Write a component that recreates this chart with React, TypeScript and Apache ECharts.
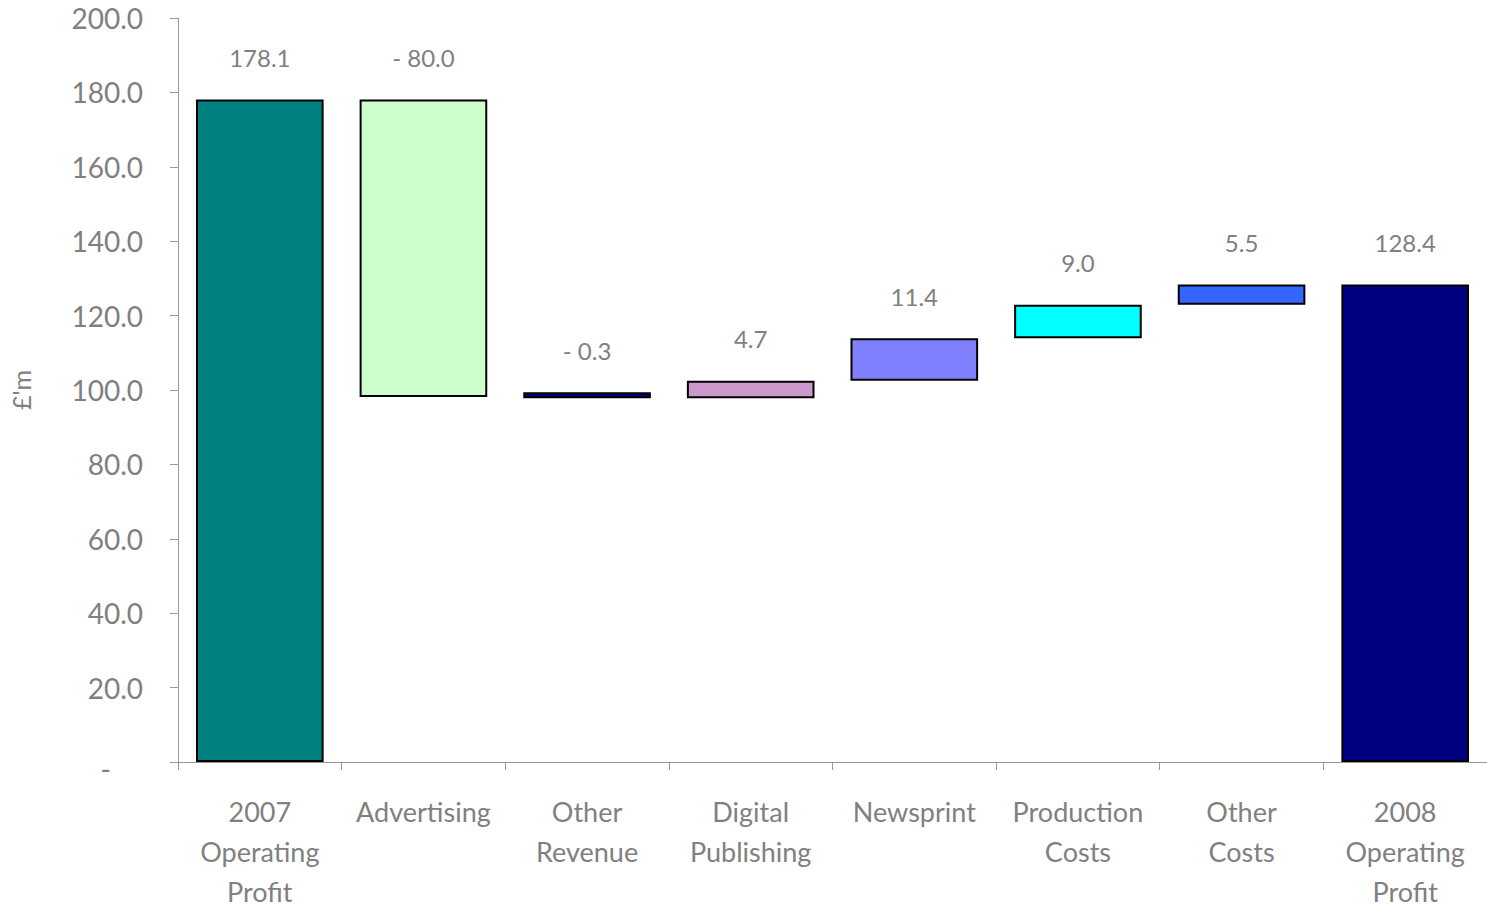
import React, { useEffect, useRef } from "react";
import * as echarts from "echarts";

// Operating profit bridge, 2007 -> 2008 (£'m)
const categories = [
  "2007\nOperating\nProfit",
  "Advertising",
  "Other\nRevenue",
  "Digital\nPublishing",
  "Newsprint",
  "Production\nCosts",
  "Other\nCosts",
  "2008\nOperating\nProfit",
];
// Opening and closing totals
const openingProfit = 178.1;
const closingProfit = 128.4;
// Year-on-year movements between the two totals
const movements = [-80.0, -0.3, 4.7, 11.4, 9.0, 5.5];
const barColors = [
  "#008080",
  "#CCFFCC",
  "#000080",
  "#CC99CC",
  "#8080FF",
  "#00FFFF",
  "#3366FF",
  "#000080",
];

const TEXT = "#808080";
const FONT = "Lato, 'Open Sans', sans-serif";

function fmt(v: number): string {
  const s = Math.abs(v).toFixed(1);
  return v < 0 ? "- " + s : s;
}

// Build the invisible base and visible segment for each step of the bridge
const baseValues: number[] = [0];
const stepValues: number[] = [openingProfit];
const labelValues: number[] = [openingProfit];
let running = openingProfit;
for (const m of movements) {
  const next = running + m;
  baseValues.push(Math.min(running, next));
  stepValues.push(Math.abs(m));
  labelValues.push(m);
  running = next;
}
baseValues.push(0);
stepValues.push(closingProfit);
labelValues.push(closingProfit);

export default function App() {
  const ref = useRef<HTMLDivElement>(null);

  useEffect(() => {
    if (!ref.current) return;
    const chart = echarts.init(ref.current, undefined, { renderer: "svg" });
    chart.setOption({
      animation: false,
      backgroundColor: "#ffffff",
      grid: {
        left: "11.97%",
        top: "1.98%",
        bottom: "15.7%",
        width: "88.64%",
        containLabel: false,
      },
      xAxis: {
        type: "category",
        data: categories,
        axisLine: { lineStyle: { color: "#999999", width: 1 } },
        axisTick: { show: true, length: 8, lineStyle: { color: "#999999" } },
        axisLabel: {
          color: TEXT,
          fontFamily: FONT,
          fontSize: 27,
          lineHeight: 40,
          margin: 29,
          interval: 0,
        },
      },
      yAxis: {
        type: "value",
        min: 0,
        max: 200,
        interval: 20,
        name: "£'m",
        nameLocation: "middle",
        nameGap: 144,
        nameTextStyle: { color: TEXT, fontFamily: FONT, fontSize: 25 },
        axisLine: { show: true, lineStyle: { color: "#999999", width: 1 } },
        axisTick: { show: true, length: 8, lineStyle: { color: "#999999" } },
        splitLine: { show: false },
        axisLabel: {
          color: TEXT,
          fontFamily: FONT,
          fontSize: 28,
          margin: 35,
          formatter: (v: number) => (v === 0 ? "{dash|-}" : v.toFixed(1)),
          rich: {
            dash: {
              color: TEXT,
              fontFamily: FONT,
              fontSize: 28,
              padding: [14, 32, 0, 0],
            },
          },
        },
      },
      series: [
        {
          type: "bar",
          stack: "bridge",
          silent: true,
          itemStyle: { color: "transparent", borderColor: "transparent" },
          data: baseValues,
          barCategoryGap: "22%",
        },
        {
          type: "bar",
          stack: "bridge",
          barCategoryGap: "22%",
          barMinHeight: 6,
          data: stepValues.map((v, i) => ({
            value: v,
            itemStyle: {
              color: barColors[i],
              borderColor: "#000000",
              borderWidth: 2,
            },
          })),
          label: {
            show: true,
            position: "top",
            distance: 30,
            color: TEXT,
            fontFamily: FONT,
            fontSize: 24,
            formatter: (p: any) => fmt(labelValues[p.dataIndex]),
          },
        },
      ],
    });
    return () => chart.dispose();
  }, []);

  return (
    <div
      ref={ref}
      style={{ position: "fixed", left: 0, top: 0, width: "100vw", height: "100vh" }}
    />
  );
}
